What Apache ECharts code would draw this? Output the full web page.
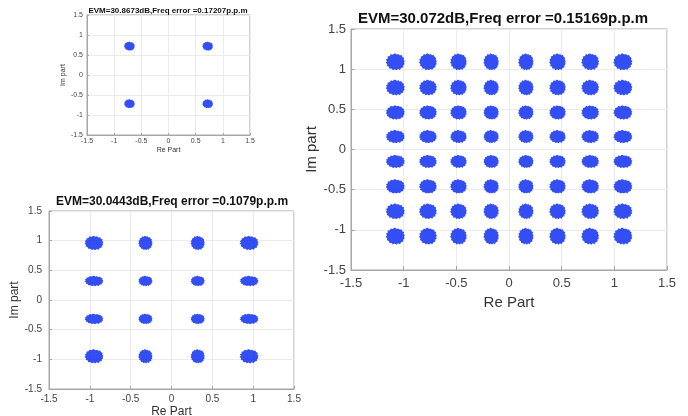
<!DOCTYPE html>
<html>
<head>
<meta charset="utf-8">
<script src="https://cdn.jsdelivr.net/npm/echarts@6/dist/echarts.min.js"></script>
<style>
  html, body { margin: 0; padding: 0; background: #fff; }
  #chart { width: 688px; height: 416px; }
</style>
</head>
<body>
<div id="chart"></div>
<script>
// constellation cluster centres
const qpskLevelsX = [-0.72, 0.72]
const qpskLevelsY = [0.72, -0.72]
const qam16LevelsX = [-0.95, -0.32, 0.32, 0.95]
const qam16LevelsY = [0.96, 0.32, -0.32, -0.95]
const qam64LevelsX = [-1.08, -0.77, -0.48, -0.17, 0.16, 0.46, 0.77, 1.08]
const qam64LevelsY = [1.09, 0.77, 0.46, 0.16, -0.15, -0.46, -0.77, -1.08]

const titles = [
  'EVM=30.8673dB,Freq error =0.17207p.p.m',
  'EVM=30.0443dB,Freq error =0.1079p.p.m',
  'EVM=30.072dB,Freq error =0.15169p.p.m',
]

const FONT = '"Liberation Sans", Arial, sans-serif'
const BLUE = '#0022f0'
// ragged outline so a cluster reads like a noisy cloud, not a clean disc
const CLOUD = 'path://M50 2 L58 8 L66 5 L72 12 L82 11 L86 21 L95 27 L92 37 L99 45 L94 53 L98 62 L90 70 L91 80 L80 84 L74 95 L64 90 L56 98 L48 92 L38 97 L32 88 L21 89 L18 78 L7 72 L10 62 L1 54 L8 46 L3 36 L12 30 L11 19 L22 16 L28 5 L38 9 L44 2 Z'

function grid(levelsX, levelsY) {
  const pts = []
  levelsY.forEach((y) => levelsX.forEach((x) => pts.push([x, y])))
  return pts
}

const panels = [
  { // QPSK, small top-left
    grid: { left: 87, top: 15, width: 163, height: 120 },
    data: grid(qpskLevelsX, qpskLevelsY),
    size: () => [11, 9],
    font: 7, nameFont: 7, titleFont: 8,
    title: { left: 168, top: 7 },
    xMargin: 3, yMargin: 4, xGap: 12, yGap: 15, tick: 2,
  },
  { // 16-QAM, bottom-left
    grid: { left: 49, top: 211, width: 245, height: 178 },
    data: grid(qam16LevelsX, qam16LevelsY),
    size: (v) => [12 + 7.5 * Math.abs(v[0]), 8.5 + 6 * Math.abs(v[1])],
    font: 10, nameFont: 12, titleFont: 12,
    title: { left: 172, top: 196 },
    xMargin: 5, yMargin: 7, xGap: 17, yGap: 21, tick: 3,
  },
  { // 64-QAM, large right
    grid: { left: 351, top: 29, width: 316, height: 241 },
    data: grid(qam64LevelsX, qam64LevelsY),
    size: (v) => [15 + 4 * Math.abs(v[0]), 12.5 + 4 * Math.abs(v[1])],
    font: 13, nameFont: 15, titleFont: 15,
    title: { left: 503, top: 11 },
    xMargin: 7, yMargin: 5, xGap: 21, yGap: 28, tick: 4,
  },
]

function axis(p, i, isX) {
  return {
    type: 'value',
    gridIndex: i,
    min: -1.5,
    max: 1.5,
    interval: 0.5,
    name: isX ? 'Re Part' : 'Im part',
    nameLocation: 'middle',
    nameGap: isX ? p.xGap : p.yGap,
    nameTextStyle: { color: '#333', fontSize: p.nameFont, fontFamily: FONT },
    axisLine: { show: true, onZero: false, lineStyle: { color: '#a6a6a6', width: 1 } },
    axisTick: { show: true, inside: true, length: p.tick, lineStyle: { color: '#a6a6a6' } },
    axisLabel: {
      color: '#444',
      fontSize: p.font,
      fontFamily: FONT,
      margin: isX ? p.xMargin : p.yMargin,
      showMinLabel: true,
      showMaxLabel: true,
    },
    splitLine: { show: true, lineStyle: { color: '#ebebeb', width: 1 } },
  }
}

const chart = echarts.init(document.getElementById('chart'), null, { renderer: 'canvas' })

chart.setOption({
  backgroundColor: '#fff',
  animation: false,
  title: panels.map((p, i) => ({
    text: titles[i],
    left: p.title.left,
    top: p.title.top,
    textAlign: 'center',
    padding: 0,
    textStyle: { color: '#111', fontSize: p.titleFont, fontWeight: 'bold', fontFamily: FONT },
  })),
  grid: panels.map((p) => ({
    ...p.grid,
    show: true,
    borderColor: '#a6a6a6',
    borderWidth: 1,
    containLabel: false,
    outerBoundsMode: 'none',
  })),
  xAxis: panels.map((p, i) => axis(p, i, true)),
  yAxis: panels.map((p, i) => axis(p, i, false)),
  series: panels.map((p, i) => ({
    type: 'scatter',
    xAxisIndex: i,
    yAxisIndex: i,
    data: p.data,
    symbol: CLOUD,
    symbolSize: p.size,
    itemStyle: { color: BLUE },
  })),
})

window.addEventListener('resize', () => chart.resize())
</script>
</body>
</html>
